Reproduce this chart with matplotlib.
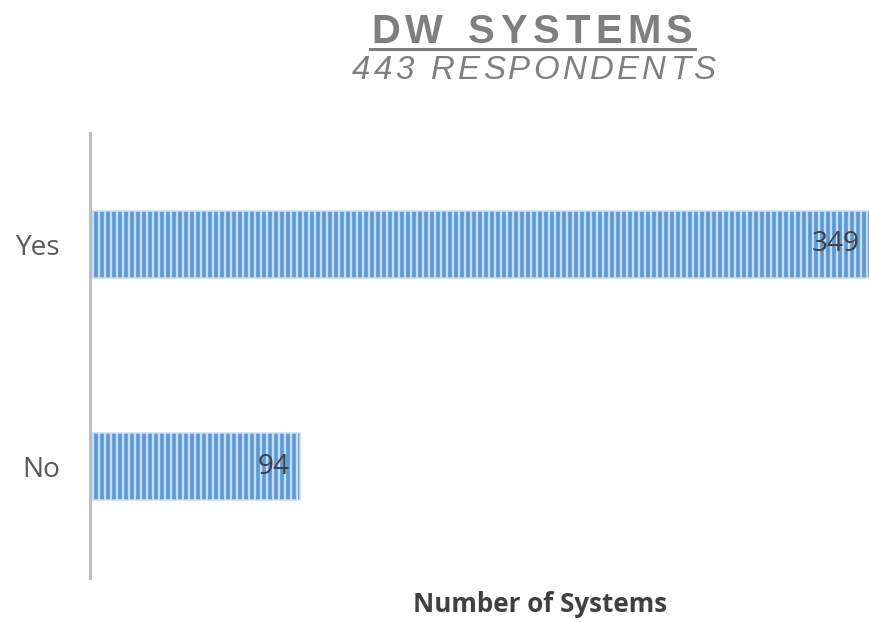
import matplotlib
matplotlib.use("Agg")
import matplotlib.pyplot as plt
from matplotlib.lines import Line2D

# Survey answers
categories = ["No", "Yes"]
counts = [94, 349]
title = "DW SYSTEMS"
subtitle = "443 RESPONDENTS"
xlabel = "Number of Systems"

DPI = 108
W, H = 869, 622


def px(v):
    """pixels -> points at the figure dpi"""
    return v * 72.0 / DPI


plt.rcParams["hatch.linewidth"] = px(2.3)

fig = plt.figure(figsize=(W / DPI, H / DPI), dpi=DPI)
fig.patch.set_facecolor("white")

# axes in pixel geometry (left, bottom, right, top measured from top-left)
left, top, right, bottom = 90, 133, 871, 578
ax = fig.add_axes([left / W, 1 - bottom / H, (right - left) / W, (bottom - top) / H])
ax.set_xlim(0, 349)
ax.set_ylim(-0.5, 1.5)

bars = ax.barh(range(len(categories)), counts, height=0.30,
               color="#5b9bd5", edgecolor="#c9dcf1", linewidth=px(1.5),
               hatch="|||", zorder=2)
for b in bars:
    b.set_clip_on(False)

ax.set_yticks(range(len(categories)))
ax.set_yticklabels(categories, fontfamily="Open Sans", fontsize=px(28),
                   color="#595959")
ax.tick_params(axis="y", length=0, pad=px(30))
ax.set_xticks([])
for s in ["top", "right", "bottom"]:
    ax.spines[s].set_visible(False)
ax.spines["left"].set_color("#bfbfbf")
ax.spines["left"].set_linewidth(px(3))

for i, v in enumerate(counts):
    ax.annotate(str(v), xy=(v, i), xytext=(px(-11), 0), textcoords="offset points",
                ha="right", va="center", fontfamily="Open Sans",
                fontsize=px(28), color="#404040", zorder=3, annotation_clip=False)

fig.text(540 / W, 1 - 605 / H, xlabel, ha="center", va="center",
         fontfamily="Open Sans", fontweight="bold", fontsize=px(26), color="#404040")


def spaced_text(s, x0, x1, baseline, size_px, **kw):
    """Draw a string with letter spacing stretched between x0 and x1 (pixels)."""
    renderer = fig.canvas.get_renderer()
    widths = []
    for ch in s:
        t = fig.text(0, 0, ch if ch != " " else "n", fontsize=px(size_px), **kw)
        bb = t.get_window_extent(renderer)
        widths.append(bb.width * (0.55 if ch == " " else 1.0))
        t.remove()
    total = sum(widths)
    gap = (x1 - x0 - total) / (len(s) - 1)
    x = x0
    for ch, w in zip(s, widths):
        if ch != " ":
            fig.text(x / W, 1 - baseline / H, ch, fontsize=px(size_px),
                     ha="left", va="baseline", **kw)
        x += w + gap


spaced_text(title, 371, 693, 43, 40, fontfamily="Liberation Sans",
            fontweight="bold", color="#7f7f7f")
fig.add_artist(Line2D([370 / W, 695 / W], [1 - 48.5 / H, 1 - 48.5 / H],
                      transform=fig.transFigure, color="#7f7f7f", linewidth=px(3)))
spaced_text(subtitle, 352, 715, 79, 33, fontfamily="Liberation Sans",
            fontstyle="italic", color="#7f7f7f")

fig.savefig("out.png", dpi=DPI, facecolor="white")
